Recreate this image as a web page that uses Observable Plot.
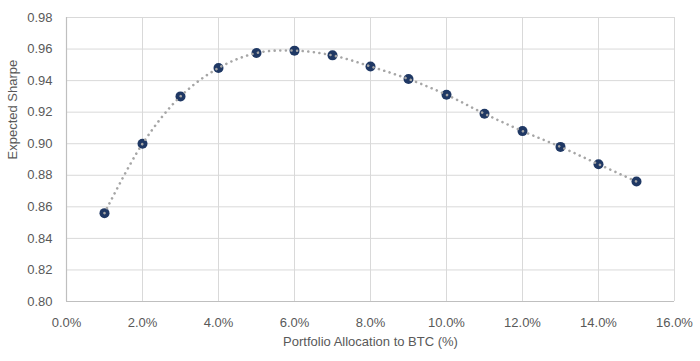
<!DOCTYPE html>
<html>
<head>
<meta charset="utf-8">
<script src="https://cdn.jsdelivr.net/npm/d3@7"></script>
<script src="https://cdn.jsdelivr.net/npm/@observablehq/plot@0.6"></script>
<style>
  html, body { margin: 0; padding: 0; background: #fff; }
  #chart svg { display: block; }
</style>
</head>
<body>
<div id="chart"></div>
<script>
const allocation = [1, 2, 3, 4, 5, 6, 7, 8, 9, 10, 11, 12, 13, 14, 15];
const sharpe = [0.856, 0.900, 0.930, 0.948, 0.9575, 0.959, 0.956, 0.949, 0.941, 0.931, 0.919, 0.908, 0.898, 0.887, 0.876];
const xTicks = [0, 2, 4, 6, 8, 10, 12, 14, 16];
const yTicks = [0.80, 0.82, 0.84, 0.86, 0.88, 0.90, 0.92, 0.94, 0.96, 0.98];

const data = allocation.map((a, i) => ({x: a, y: sharpe[i]}));

const chart = Plot.plot({
  width: 700,
  height: 361,
  marginLeft: 66,
  marginRight: 26,
  marginTop: 17,
  marginBottom: 60,
  style: {fontFamily: "'Liberation Sans', Arial, sans-serif", fontSize: "13px", color: "#595959", background: "#fff"},
  x: {domain: [0, 16], ticks: xTicks, tickFormat: d => d.toFixed(1) + "%", label: null},
  y: {domain: [0.80, 0.98], ticks: yTicks, tickFormat: d => d.toFixed(2), label: null},
  marks: [
    Plot.gridX(xTicks, {stroke: "#d9d9d9", strokeOpacity: 1, strokeWidth: 1}),
    Plot.gridY(yTicks, {stroke: "#d9d9d9", strokeOpacity: 1, strokeWidth: 1}),
    Plot.ruleX([0], {stroke: "#bfbfbf", strokeWidth: 1.2}),
    Plot.ruleY([0.80], {stroke: "#bfbfbf", strokeWidth: 1.2}),
    Plot.axisX(xTicks, {tickSize: 0, tickPadding: 16, tickFormat: d => d.toFixed(1) + "%", fill: "#595959", label: null}),
    Plot.axisY(yTicks, {tickSize: 0, tickPadding: 14, tickFormat: d => d.toFixed(2), fill: "#595959", label: null}),
    Plot.dot(data, {x: "x", y: "y", r: 5, fill: "#1f3864", stroke: "none"}),
    Plot.line(data, {x: "x", y: "y", curve: "catmull-rom", stroke: "#a6a6a6", strokeWidth: 2.6, strokeDasharray: "0.01 5.6", strokeLinecap: "round"}),
    Plot.text(["Portfolio Allocation to BTC (%)"], {frameAnchor: "bottom", dy: 44, text: d => d, fill: "#595959", fontSize: 13}),
    Plot.text(["Expected Sharpe"], {frameAnchor: "left", dx: -54, rotate: -90, text: d => d, fill: "#595959", fontSize: 13})
  ]
});
document.getElementById("chart").appendChild(chart);
</script>
</body>
</html>
